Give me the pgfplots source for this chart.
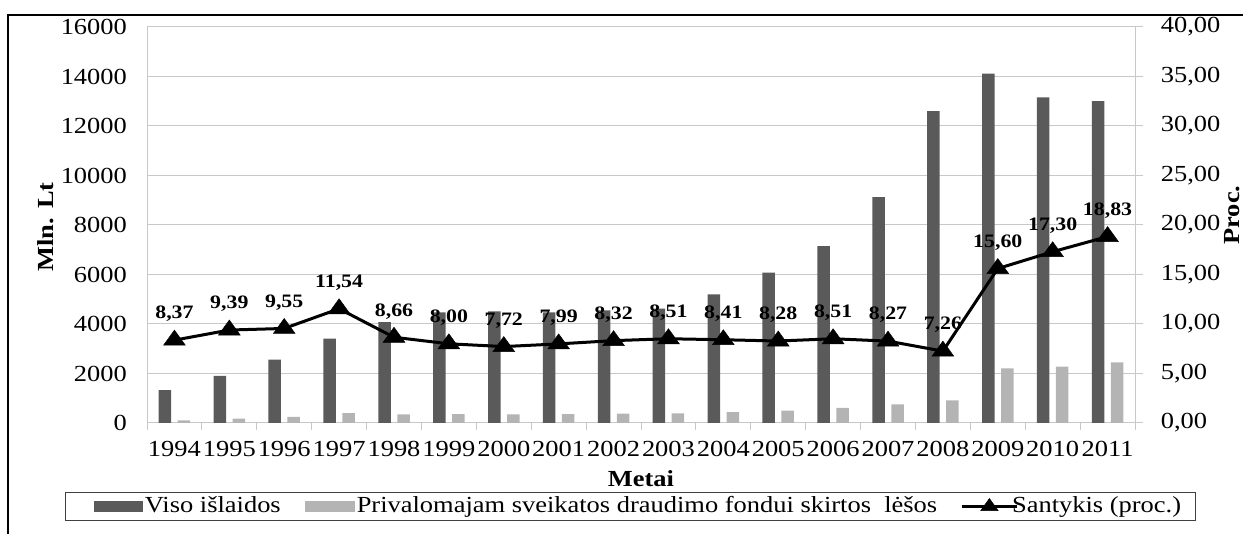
\documentclass[border=0pt]{standalone}
\usepackage{fontspec}
\setmainfont[FakeStretch=1.15]{Liberation Serif}
\usepackage{pgfplots}
\pgfplotsset{compat=1.18}
\definecolor{darkbar}{RGB}{90,90,90}
\definecolor{lightbar}{RGB}{180,180,180}
\definecolor{gridc}{RGB}{200,200,200}
\begin{document}
\fontsize{23bp}{27bp}\selectfont
\begin{tikzpicture}
\path[use as bounding box] (0,0) rectangle (1243bp,534bp);
\draw[line width=2bp] (8bp,0) -- (8bp,519bp) -- (1243bp,519bp);
\begin{axis}[
  at={(147bp,111bp)}, anchor=south west,
  scale only axis, width=988bp, height=396bp,
  xmin=-0.5, xmax=17.5, ymin=0, ymax=16000,
  axis x line*=bottom, axis y line*=left,
  axis line style={gridc, line width=1bp},
  ytick={0,2000,...,16000},
  scaled y ticks=false,
  ymajorgrids, grid style={gridc, line width=1bp},
  ytick style={draw=none},
  yticklabel style={/pgf/number format/1000 sep={}, xshift=-8bp},
  /pgf/number format/assume math mode=true,
  xtick={0,...,17},
  xticklabels={1994,1995,1996,1997,1998,1999,2000,2001,2002,2003,2004,2005,2006,2007,2008,2009,2010,2011},
  xticklabel style={yshift=-6bp},
  major x tick style={draw=none},
  minor xtick={-0.5,0.5,...,17.5},
  minor tick length=7bp,
  minor x tick style={gridc, line width=1bp},
  tick align=outside,
  ylabel={\textbf{Mln. Lt}},
  ylabel style={at={(axis description cs:-0.1022,0.495)}, anchor=center},
  xlabel={\textbf{Metai}},
  xlabel style={at={(axis description cs:0.5,-0.1414)}, anchor=center},
]
\addplot[ybar, bar width=12.5bp, bar shift=-9.5bp, fill=darkbar, draw=none] coordinates {
(0,1330) (1,1900) (2,2560) (3,3410) (4,4080) (5,4470) (6,4510) (7,4470) (8,4550)
(9,4620) (10,5200) (11,6080) (12,7150) (13,9130) (14,12600) (15,14120) (16,13160) (17,13000)};
\addplot[ybar, bar width=12.5bp, bar shift=9.5bp, fill=lightbar, draw=none] coordinates {
(0,111) (1,178) (2,244) (3,394) (4,353) (5,358) (6,348) (7,357) (8,379)
(9,393) (10,437) (11,503) (12,608) (13,755) (14,915) (15,2203) (16,2277) (17,2448)};
\end{axis}
\begin{axis}[
  at={(147bp,111bp)}, anchor=south west,
  scale only axis, width=988bp, height=396bp,
  xmin=-0.5, xmax=17.5, ymin=0, ymax=40,
  axis y line*=right, axis x line=none,
  axis line style={gridc, line width=1bp},
  ytick={0,5,...,40},
  ytick style={gridc, line width=1bp},
  major tick length=8bp,
  tick align=outside,
  /pgf/number format/assume math mode=true,
  yticklabel style={/pgf/number format/.cd, fixed, fixed zerofill, precision=2, use comma, /tikz/xshift=10bp},
  ylabel={\textbf{Proc.}},
  ylabel style={at={(axis description cs:1.0982,0.525)}, anchor=center},
  legend columns=3,
  legend cell align=left,
  legend style={at={(axis description cs:0.4894,-0.2109)}, anchor=center,
    draw=black!75, line width=1bp, fill=white, inner xsep=12bp, inner ysep=2bp,
    font=\fontsize{23bp}{27bp}\selectfont,
    /tikz/every even column/.append style={column sep=22bp}},
]
\addlegendimage{legend image code/.code={\path (0bp,0bp); \fill[darkbar] (16bp,-5bp) rectangle (64bp,5bp);}}
\addlegendentry{Viso išlaidos}
\addlegendimage{legend image code/.code={\fill[lightbar] (0bp,-5bp) rectangle (49bp,5bp);}}
\addlegendentry{Privalomajam sveikatos draudimo fondui skirtos\ \ lėšos}
\addlegendimage{legend image code/.code={\path (0bp,-5bp) (48bp,5bp); \draw[overlay, black, line width=3bp] (0bp,0bp) -- (55.6bp,0bp); \draw[overlay] plot[mark=triangle*, mark size=8bp, mark options={xscale=1.25, fill=black, draw=black, line width=0.5bp}] coordinates {(27.8bp,0bp)};}}
\addlegendentry{Santykis (proc.)}
\addplot[black, line width=3bp, mark=triangle*, mark size=10bp,
  mark options={xscale=1.25, line width=0.5bp, solid},
  point meta=y,
  nodes near coords={\pgfmathprintnumber[fixed,fixed zerofill,precision=2,use comma]{\pgfplotspointmeta}},
  every node near coord/.style={font=\fontsize{19bp}{21bp}\selectfont\bfseries, anchor=center, yshift=26bp, black},
  forget plot] coordinates {
(0,8.37) (1,9.39) (2,9.55) (3,11.54) (4,8.66) (5,8.00) (6,7.72) (7,7.99) (8,8.32)
(9,8.51) (10,8.41) (11,8.28) (12,8.51) (13,8.27) (14,7.26) (15,15.60) (16,17.30) (17,18.83)};
\end{axis}
\end{tikzpicture}
\end{document}
